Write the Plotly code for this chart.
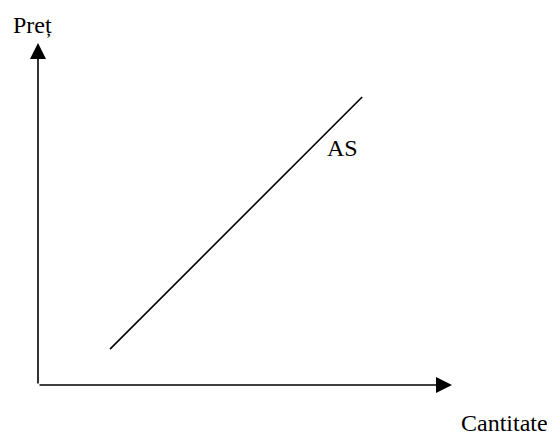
import plotly.graph_objects as go

# Aggregate supply curve endpoints (quantity, price) in chart units
as_quantity = [1.74, 7.83]
as_price = [1.05, 8.42]

# Axis extents (arrow tips)
x_axis_end = 10
y_axis_end = 10

y_label = "Preț"
x_label = "Cantitate"
curve_label = "AS"

FONT = dict(family="Liberation Serif, Times New Roman, serif", size=24, color="black")

fig = go.Figure()
fig.add_trace(go.Scatter(x=as_quantity, y=as_price, mode="lines",
                         line=dict(color="black", width=1.6), hoverinfo="skip",
                         showlegend=False))

# axes with arrow heads
fig.add_annotation(x=x_axis_end, y=0, ax=0, ay=0, xref="x", yref="y",
                   axref="x", ayref="y", text="", showarrow=True,
                   arrowhead=2, arrowsize=2, arrowwidth=1.6, arrowcolor="black")
fig.add_annotation(x=0, y=y_axis_end, ax=0, ay=0, xref="x", yref="y",
                   axref="x", ayref="y", text="", showarrow=True,
                   arrowhead=2, arrowsize=2, arrowwidth=1.6, arrowcolor="black")

fig.add_annotation(x=-0.133, y=10.54, text=y_label, showarrow=False, font=FONT,
                   xanchor="center", yanchor="middle")
fig.add_annotation(x=7.343, y=6.93, text=curve_label, showarrow=False, font=FONT,
                   xanchor="center", yanchor="middle")
fig.add_annotation(x=11.27, y=0, yref="paper", text=x_label, showarrow=False,
                   font=FONT, xanchor="center", yanchor="bottom", borderpad=0)

fig.update_layout(
    width=547, height=429,
    margin=dict(l=0, r=0, t=0, b=0),
    paper_bgcolor="white", plot_bgcolor="white",
    xaxis=dict(range=[-0.7246, 12.488], visible=False, fixedrange=True),
    yaxis=dict(range=[-1.5205, 11.023], visible=False, fixedrange=True),
    showlegend=False,
)

fig.write_html("out.html", config={"displayModeBar": False})
